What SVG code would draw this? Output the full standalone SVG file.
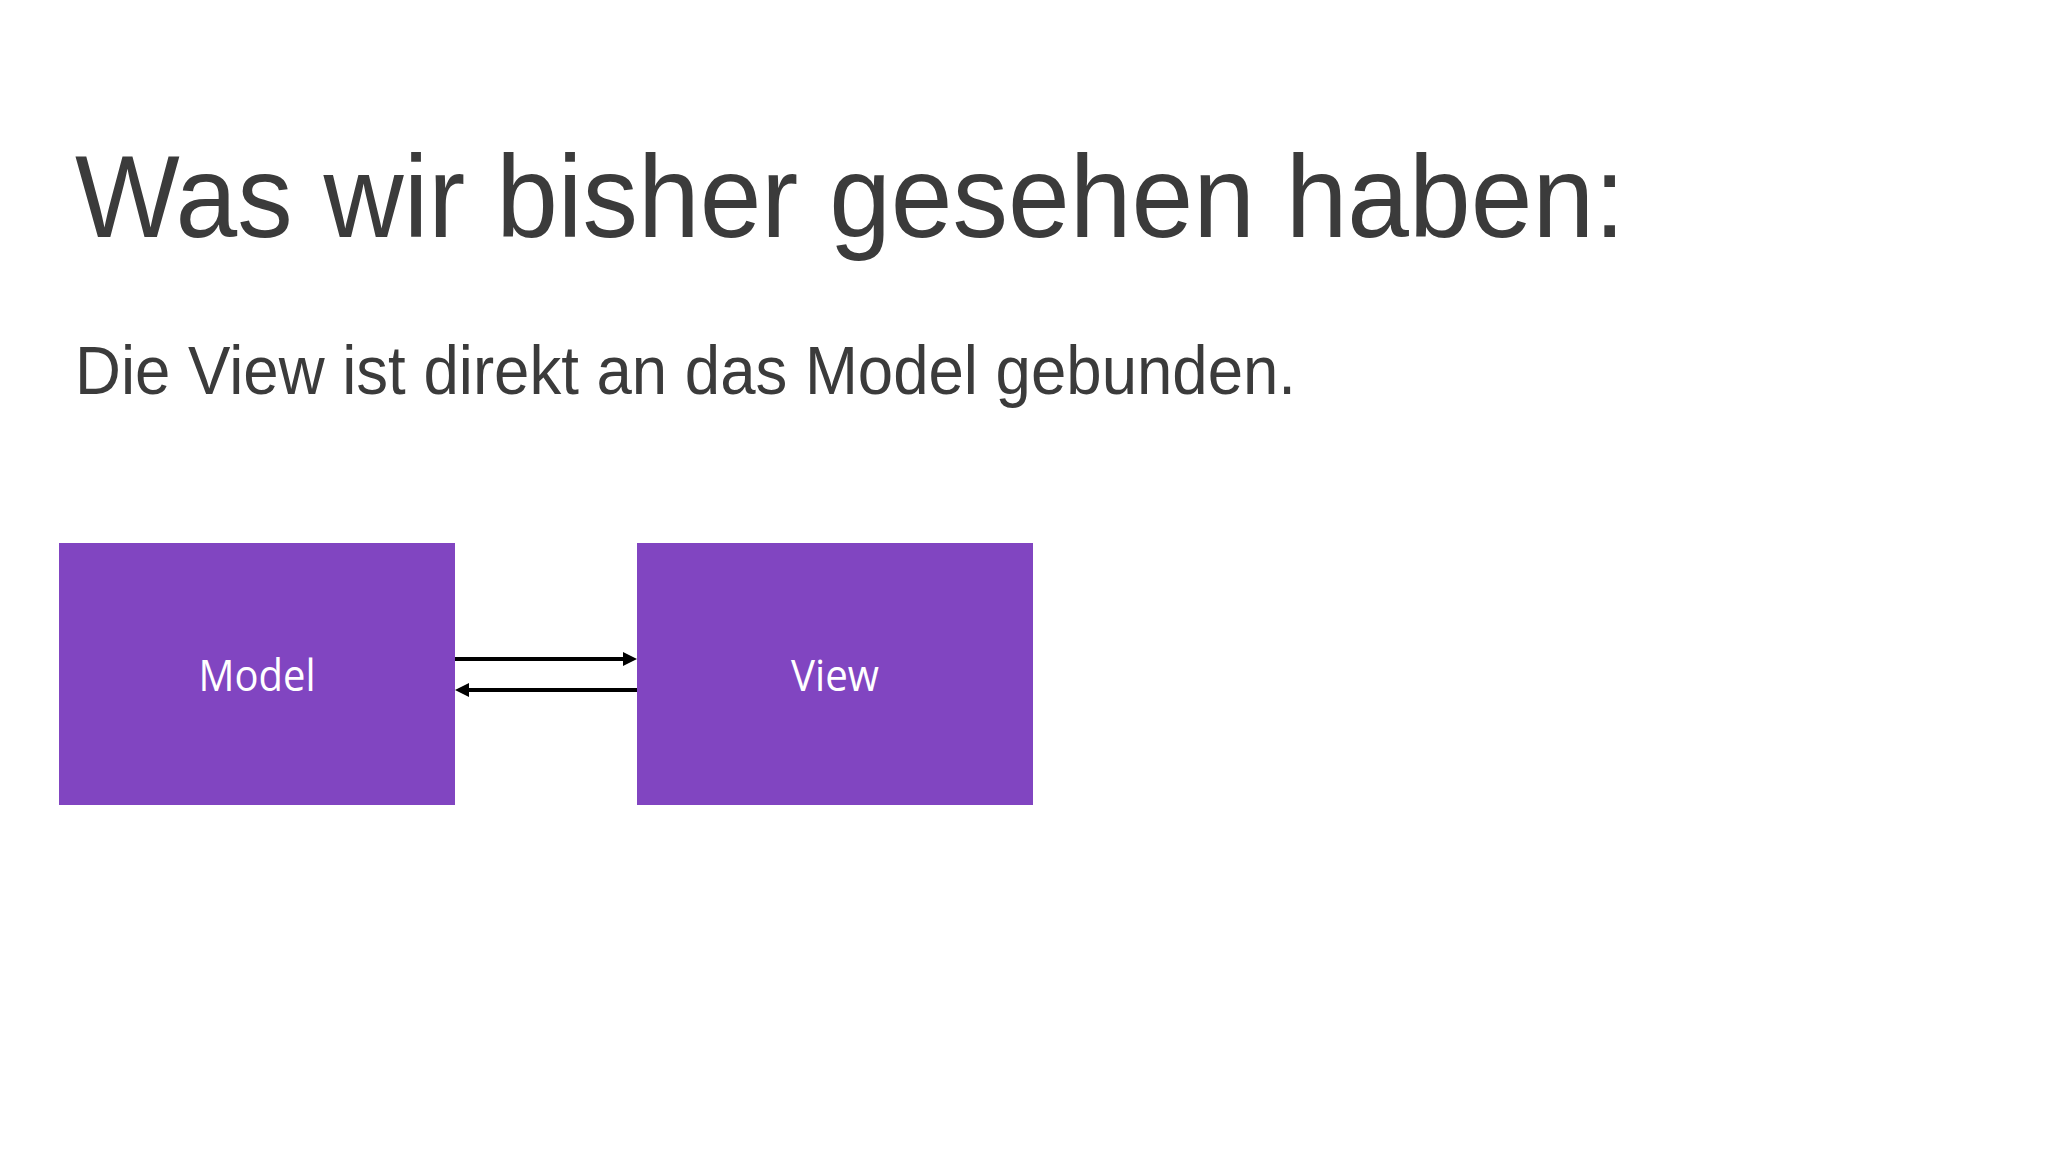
<svg xmlns="http://www.w3.org/2000/svg" width="2048" height="1152" viewBox="0 0 2048 1152">
  <style>
    .heading { font-family: "Liberation Sans", Arial, sans-serif; fill: #3b3b3b; }
    .box { fill: #8145c1; }
    .label { font-family: "Open Sans", "Noto Sans", sans-serif; font-size: 43px; fill: #ffffff; text-anchor: middle; }
    .conn { stroke: #000000; stroke-width: 4; fill: none; }
  </style>
  <defs>
    <marker id="arrow" viewBox="0 0 14 14" refX="0" refY="7" markerWidth="14" markerHeight="14" markerUnits="userSpaceOnUse" orient="auto">
      <path d="M0,0 L14,7 L0,14 z" fill="#000000"/>
    </marker>
  </defs>
  <rect x="0" y="0" width="2048" height="1152" fill="#ffffff"/>

  <g id="title">
    <text class="heading" x="75" y="237" font-size="117" textLength="1550" lengthAdjust="spacingAndGlyphs">Was wir bisher gesehen haben:</text>
  </g>
  <g id="subtitle">
    <text class="heading" x="75" y="394" font-size="68.5" textLength="1221" lengthAdjust="spacingAndGlyphs">Die View ist direkt an das Model gebunden.</text>
  </g>

  <g id="node-model">
    <rect class="box" x="59" y="543" width="396" height="262"/>
    <text class="label" x="257" y="691" textLength="117" lengthAdjust="spacingAndGlyphs">Model</text>
  </g>
  <g id="node-view">
    <rect class="box" x="637" y="543" width="396" height="262"/>
    <text class="label" x="835" y="691" textLength="88" lengthAdjust="spacingAndGlyphs">View</text>
  </g>

  <g id="connectors">
    <line class="conn" x1="455" y1="659" x2="623" y2="659" marker-end="url(#arrow)"/>
    <line class="conn" x1="637" y1="690" x2="469" y2="690" marker-end="url(#arrow)"/>
  </g>
</svg>
